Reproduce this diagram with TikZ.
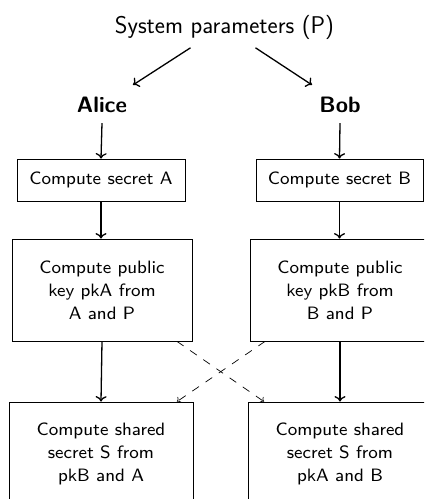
\documentclass[tikz,border=0pt]{standalone}
\usepackage{fontspec}
\usetikzlibrary{arrows.meta}
% small optical size of Latin Modern Sans for the box labels
\newfontfamily\boxfont{lmsans8-regular.otf}
\begin{document}
\begin{tikzpicture}[x=1pt,y=-1pt,
  every node/.style={font=\sffamily},
  titletext/.style={font=\sffamily\fontsize{24.2}{28}\selectfont, inner sep=0pt},
  party/.style={font=\sffamily\bfseries\fontsize{22.3}{26}\selectfont, inner sep=0pt},
  stepbox/.style={draw, line width=0.8pt, align=center, inner sep=0pt,
    font=\boxfont\fontsize{17.9}{23}\selectfont},
  flow/.style={-{To[length=5.5pt,width=11pt]}, line width=1.3pt},
  swap/.style={-{To[length=3.5pt,width=7pt]}, line width=0.7pt, dash pattern=on 8pt off 8pt}
]
\useasboundingbox (0,0) rectangle (424,499);
\clip (0,0) rectangle (424,499);

% header and the two parties
\node[titletext] (sys) at (224.5,27.5) {System parameters (P)};
\node[party] (alice) at (102,105) {Alice};
\node[party] (bob) at (340,105) {Bob};

% Alice's column
\node[stepbox, minimum width=168pt, minimum height=42pt] (secA) at (101,180) {Compute secret A};
\node[stepbox, minimum width=180pt, minimum height=102pt] (pkA) at (102,290)
  {Compute public\\key pkA from\\A and P};
\node[stepbox, minimum width=184pt, minimum height=104pt] (shA) at (101,454)
  {Compute shared\\secret S from\\pkB and A};

% Bob's column
\node[stepbox, minimum width=167pt, minimum height=42pt] (secB) at (339.5,180) {Compute secret B};
\node[stepbox, minimum width=180pt, minimum height=102pt] (pkB) at (340,290)
  {Compute public\\key pkB from\\B and P};
\node[stepbox, minimum width=184pt, minimum height=104pt] (shB) at (340,454)
  {Compute shared\\secret S from\\pkA and B};

% parameters handed to both parties
\draw[flow] ([xshift=-34pt,yshift=-8pt]sys.south) -- ([xshift=31pt,yshift=12pt]alice.north);
\draw[flow] ([xshift=31pt,yshift=-8pt]sys.south) -- ([xshift=-28pt,yshift=12pt]bob.north);

% local computations
\draw[flow] ([yshift=-10pt]alice.south) -- (secA.north);
\draw[flow] ([yshift=-10pt]bob.south) -- (secB.north);
\draw[flow] (secA.south) -- (secA.south |- pkA.north);
\draw[flow] (secB.south) -- (secB.south |- pkB.north);
\draw[flow] (pkA.south) -- (shA.north);
\draw[flow] (pkB.south) -- (shB.north);

% exchanged public keys
\draw[swap] ([xshift=75pt]pkA.south) -- ([xshift=-76pt]shB.north);
\draw[swap] ([xshift=-75pt]pkB.south) -- ([xshift=76pt]shA.north);
\end{tikzpicture}
\end{document}
